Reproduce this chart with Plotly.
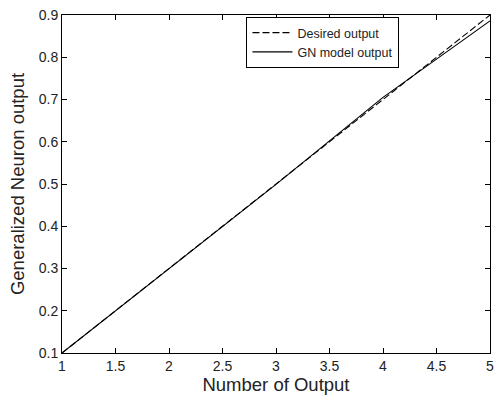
import plotly.graph_objects as go

x_vals = [1, 2, 3, 4, 5]
desired = [0.1, 0.3, 0.5, 0.7, 0.9]
gn_model = [0.1, 0.299, 0.499, 0.705, 0.886]
x_ticks = [1, 1.5, 2, 2.5, 3, 3.5, 4, 4.5, 5]
x_ticklabels = ["1", "1.5", "2", "2.5", "3", "3.5", "4", "4.5", "5"]
y_ticks = [0.1, 0.2, 0.3, 0.4, 0.5, 0.6, 0.7, 0.8, 0.9]
y_ticklabels = ["0.1", "0.2", "0.3", "0.4", "0.5", "0.6", "0.7", "0.8", "0.9"]

fig = go.Figure()
fig.add_trace(go.Scatter(x=x_vals, y=desired, mode="lines", name="Desired output",
                         line=dict(color="black", width=1.1, dash="7px,3px")))
fig.add_trace(go.Scatter(x=x_vals, y=gn_model, mode="lines", name="GN model output",
                         line=dict(color="black", width=1.1)))

axis_common = dict(showgrid=False, zeroline=False, showline=True, linecolor="black",
                   linewidth=1, mirror="ticks", ticks="inside", ticklen=5,
                   tickcolor="black", tickfont=dict(size=14, color="#222"),
                   automargin=False, ticklabeloverflow="allow")
fig.update_xaxes(range=[1, 5], tickvals=x_ticks, ticktext=x_ticklabels,
                 title=dict(text="Number of Output", font=dict(size=18.5, color="#222"), standoff=0),
                 **axis_common)
fig.update_yaxes(range=[0.1, 0.9], tickvals=y_ticks, ticktext=y_ticklabels,
                 title=dict(text="Generalized Neuron output", font=dict(size=18.5, color="#222"), standoff=9),
                 **axis_common)

fig.update_layout(
    width=494, height=396,
    margin=dict(l=62, r=4, t=15, b=43),
    paper_bgcolor="white", plot_bgcolor="white",
    font=dict(family="Liberation Sans, Arial, sans-serif", color="#222"),
    showlegend=True,
    legend=dict(x=0.431, y=0.994, xanchor="left", yanchor="top",
                bgcolor="white", bordercolor="black", borderwidth=1,
                font=dict(size=12.5), tracegroupgap=0, itemwidth=40),
)

fig.write_html("out.html", post_script="document.body.style.margin='0';",
               config={"displayModeBar": False})
